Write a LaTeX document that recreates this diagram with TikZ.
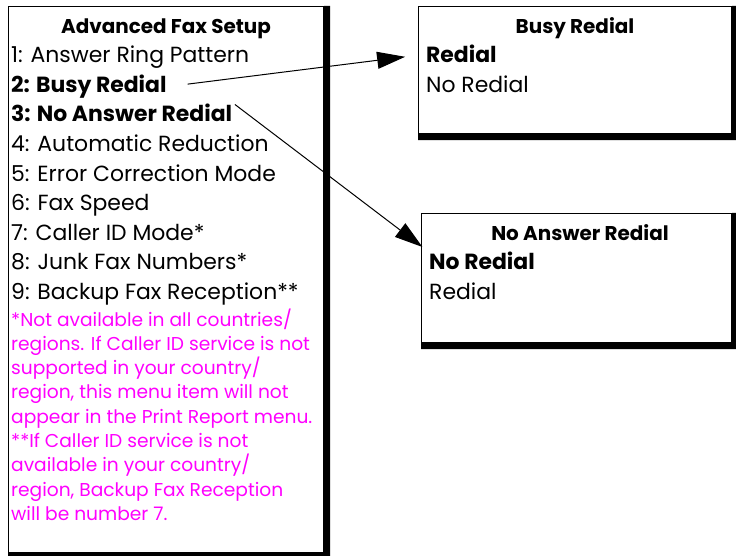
\documentclass[tikz,border=0pt]{standalone}
\usepackage{fontspec}
\setmainfont{Poppins}
\usetikzlibrary{arrows.meta, positioning}
\definecolor{notepink}{RGB}{255,0,255}

\begin{document}
\begin{tikzpicture}[x=1bp,y=-1bp,>={Triangle[length=28bp,width=17bp]},node distance=29.5bp,on grid,
frame/.style={draw,line width=1.2bp,inner sep=0pt,anchor=north west},
head/.style={font=\fontsize{20}{24}\selectfont\bfseries,anchor=base,inner sep=1bp},
item/.style={font=\fontsize{22}{25}\selectfont,anchor=base west,inner sep=1bp},
pick/.style={item,font=\fontsize{22}{25}\selectfont\bfseries},
note/.style={font=\fontsize{18.7}{22}\selectfont,text=notepink,anchor=base west,inner sep=1bp},
link/.style={->,line width=1bp}]
\useasboundingbox (0,0) rectangle (736,556);
% the three menu screens
\node[frame,minimum width=315bp,minimum height=546bp] (menu) at (8,6) {};
\node[frame,minimum width=313bp,minimum height=127bp] (busy) at (418,6) {};
\node[frame,minimum width=310bp,minimum height=129bp] (noans) at (421,213) {};
\foreach \b in {menu,busy,noans}
  \fill (\b.north east) rectangle ([shift={(6bp,-6bp)}]\b.south east)
        (\b.south west) rectangle ([shift={(6bp,-6bp)}]\b.south east);
% Advanced Fax Setup
\node[head] (title) at (166,34) {Advanced Fax Setup};
\node[item] (m1) at (10,63) {1: Answer Ring Pattern};
\node[pick] (m2) [below=of m1.base west,anchor=base west] {2: Busy Redial};
\node[pick] (m3) [below=of m2.base west,anchor=base west] {3: No Answer Redial};
\node[item] (m4) [below=of m3.base west,anchor=base west] {4: Automatic Reduction};
\node[item] (m5) [below=of m4.base west,anchor=base west] {5: Error Correction Mode};
\node[item] (m6) [below=of m5.base west,anchor=base west] {6: Fax Speed};
\node[item] (m7) [below=of m6.base west,anchor=base west] {7: Caller ID Mode*};
\node[item] (m8) [below=of m7.base west,anchor=base west] {8: Junk Fax Numbers*};
\node[item] (m9) [below=of m8.base west,anchor=base west] {9: Backup Fax Reception**};
\foreach \t [count=\i] in {*Not available in all countries/,
    {regions. If Caller ID service is not},supported in your country/,
    {region, this menu item will not},appear in the Print Report menu.,
    **If Caller ID service is not,available in your country/,
    {region, Backup Fax Reception},will be number 7.}
  \node[note] (n\i) at (10,{326+24.3*(\i-1)}) {\t};
% Busy Redial
\node[head] (bt) at (575,34) {Busy Redial};
\node[pick] (b1) at (425,63) {Redial};
\node[item] (b2) [below=of b1.base west,anchor=base west] {No Redial};
% No Answer Redial
\node[head] (at) at (580,241) {No Answer Redial};
\node[pick] (a1) at (428,270) {No Redial};
\node[item] (a2) [below=of a1.base west,anchor=base west] {Redial};
\draw[link,shorten <=20bp,shorten >=20bp] (m2.east) -- (b1.west);
\draw[link,shorten <=2bp,shorten >=7bp] (m3.north east) -- (a1.north west);
\end{tikzpicture}
\end{document}
